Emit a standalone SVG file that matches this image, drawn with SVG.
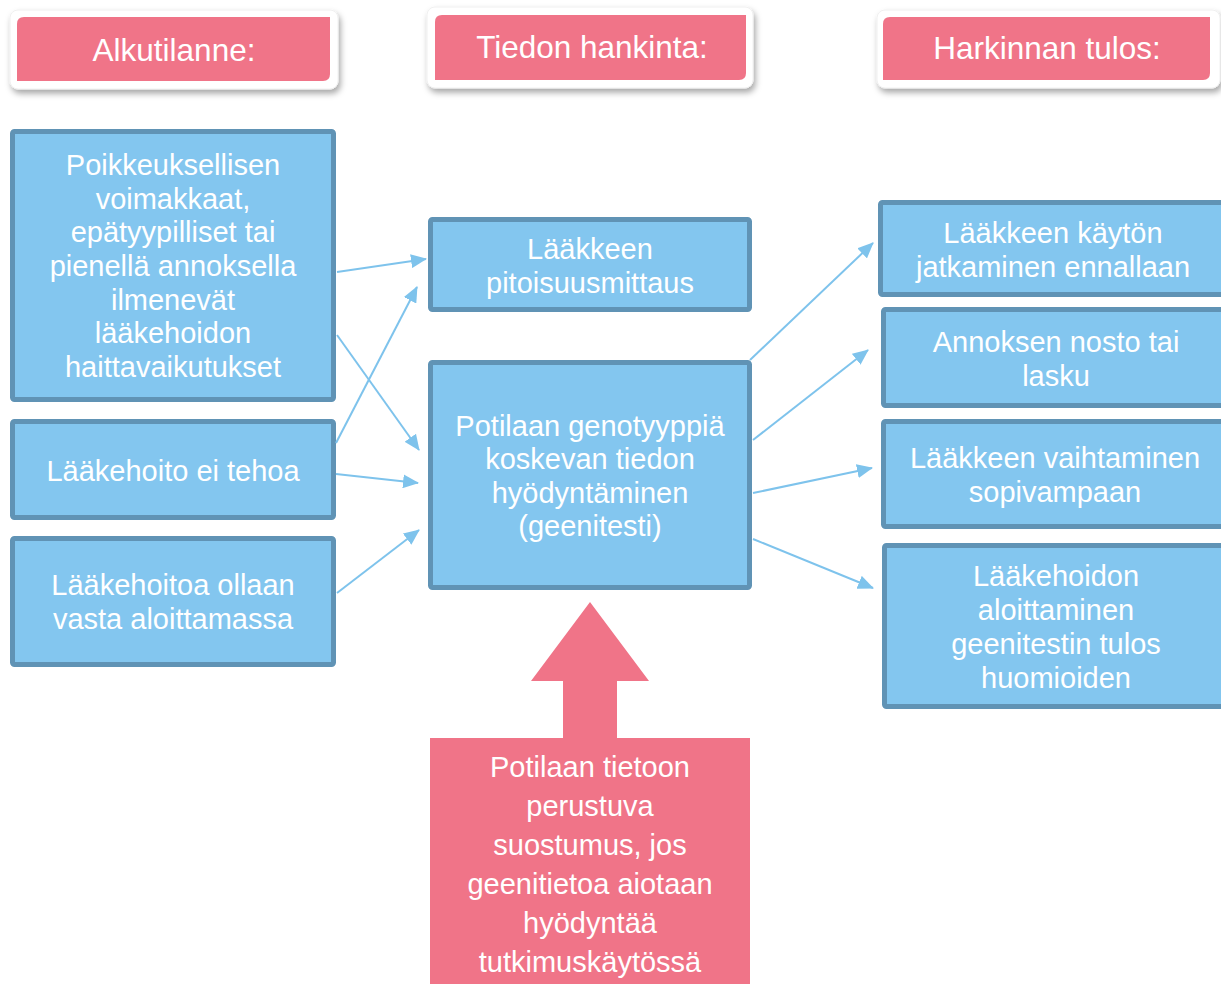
<svg xmlns="http://www.w3.org/2000/svg" width="1221" height="984" viewBox="0 0 1221 984">
<style>
.hdrbg{fill:#ffffff;stroke:#f0f0f0;stroke-width:1}
.hdr{fill:#F07488}
.box{fill:#83C6EF;stroke:#6093B5;stroke-width:5}
.pink{fill:#F07488}
text{font-family:"Liberation Sans",Arial,sans-serif;fill:#ffffff;text-anchor:middle}
.h{font-size:31.5px}
.t{font-size:29px}
.conn{stroke:#7EC3EC;stroke-width:2;fill:none;marker-end:url(#ah)}
</style>
<defs>
<filter id="sh" x="-10%" y="-20%" width="125%" height="160%">
<feDropShadow dx="2" dy="4" stdDeviation="3" flood-color="#000" flood-opacity="0.35"/>
</filter>
<marker id="ah" markerUnits="userSpaceOnUse" viewBox="0 0 16 14" refX="15" refY="7" markerWidth="16" markerHeight="14" orient="auto">
<path d="M0,0 L16,7 L0,14 Z" fill="#7EC3EC"/>
</marker>
</defs>

<g id="hdr-alkutilanne">
<rect class="hdrbg" x="10" y="10" width="328" height="79" rx="8" filter="url(#sh)"/>
<path class="hdr" d="M24,17 H330 V74 Q330,81 323,81 H17 V24 Q17,17 24,17 Z"/>
<text class="h" x="174" y="61">Alkutilanne:</text>
</g>

<g id="hdr-tiedon">
<rect class="hdrbg" x="427" y="7" width="326" height="81" rx="8" filter="url(#sh)"/>
<path class="hdr" d="M442,15 H746 V73 Q746,80 739,80 H435 V22 Q435,15 442,15 Z"/>
<text class="h" x="592" y="58">Tiedon hankinta:</text>
</g>

<g id="hdr-harkinnan">
<rect class="hdrbg" x="877" y="10" width="343" height="78" rx="8" filter="url(#sh)"/>
<path class="hdr" d="M890,17 H1210 V73 Q1210,80 1203,80 H883 V24 Q883,17 890,17 Z"/>
<text class="h" x="1047" y="59">Harkinnan tulos:</text>
</g>

<g id="n-poikkeuksellisen">
<rect class="box" x="12.5" y="131.5" width="321" height="268" rx="2"/>
<text class="t" x="173" y="175">Poikkeuksellisen</text>
<text class="t" x="173" y="209">voimakkaat,</text>
<text class="t" x="173" y="242">epätyypilliset tai</text>
<text class="t" x="173" y="276">pienellä annoksella</text>
<text class="t" x="173" y="310">ilmenevät</text>
<text class="t" x="173" y="343">lääkehoidon</text>
<text class="t" x="173" y="377">haittavaikutukset</text>
</g>

<g id="n-eitehoa">
<rect class="box" x="12.5" y="421.5" width="321" height="96" rx="2"/>
<text class="t" x="173" y="481">Lääkehoito ei tehoa</text>
</g>

<g id="n-aloittamassa">
<rect class="box" x="12.5" y="538.5" width="321" height="126" rx="2"/>
<text class="t" x="173" y="595">Lääkehoitoa ollaan</text>
<text class="t" x="173" y="629">vasta aloittamassa</text>
</g>

<g id="n-pitoisuus">
<rect class="box" x="430.5" y="219.5" width="319" height="90" rx="2"/>
<text class="t" x="590" y="259">Lääkkeen</text>
<text class="t" x="590" y="293">pitoisuusmittaus</text>
</g>

<g id="n-genotyyppi">
<rect class="box" x="430.5" y="362.5" width="319" height="225" rx="2"/>
<text class="t" x="590" y="436">Potilaan genotyyppiä</text>
<text class="t" x="590" y="469">koskevan tiedon</text>
<text class="t" x="590" y="503">hyödyntäminen</text>
<text class="t" x="590" y="536">(geenitesti)</text>
</g>

<g id="n-jatkaminen">
<rect class="box" x="880.5" y="202.5" width="348" height="92" rx="2"/>
<text class="t" x="1053" y="243">Lääkkeen käytön</text>
<text class="t" x="1053" y="277">jatkaminen ennallaan</text>
</g>

<g id="n-annos">
<rect class="box" x="883.5" y="309.5" width="348" height="96" rx="2"/>
<text class="t" x="1056" y="352">Annoksen nosto tai</text>
<text class="t" x="1056" y="386">lasku</text>
</g>

<g id="n-vaihtaminen">
<rect class="box" x="883.5" y="421.5" width="348" height="105" rx="2"/>
<text class="t" x="1055" y="468">Lääkkeen vaihtaminen</text>
<text class="t" x="1055" y="502">sopivampaan</text>
</g>

<g id="n-aloittaminen">
<rect class="box" x="884.5" y="545.5" width="348" height="161" rx="2"/>
<text class="t" x="1056" y="586">Lääkehoidon</text>
<text class="t" x="1056" y="620">aloittaminen</text>
<text class="t" x="1056" y="654">geenitestin tulos</text>
<text class="t" x="1056" y="688">huomioiden</text>
</g>

<g id="n-suostumus">
<path class="pink" d="M590,602 L649,681 L617,681 L617,740 L563,740 L563,681 L531,681 Z"/>
<rect class="pink" x="430" y="738" width="320" height="246"/>
<text class="t" x="590" y="777">Potilaan tietoon</text>
<text class="t" x="590" y="816">perustuva</text>
<text class="t" x="590" y="855">suostumus, jos</text>
<text class="t" x="590" y="894">geenitietoa aiotaan</text>
<text class="t" x="590" y="933">hyödyntää</text>
<text class="t" x="590" y="972">tutkimuskäytössä</text>
</g>

<g id="connectors">
<line class="conn" x1="337" y1="272" x2="426" y2="259"/>
<line class="conn" x1="336" y1="443" x2="417" y2="287"/>
<line class="conn" x1="337" y1="335" x2="419" y2="450"/>
<line class="conn" x1="336" y1="474" x2="418" y2="483"/>
<line class="conn" x1="337" y1="593" x2="419" y2="530"/>
<line class="conn" x1="750" y1="360" x2="873" y2="243"/>
<line class="conn" x1="753" y1="440" x2="868" y2="350"/>
<line class="conn" x1="753" y1="493" x2="872" y2="468"/>
<line class="conn" x1="753" y1="539" x2="873" y2="588"/>
</g>
</svg>
